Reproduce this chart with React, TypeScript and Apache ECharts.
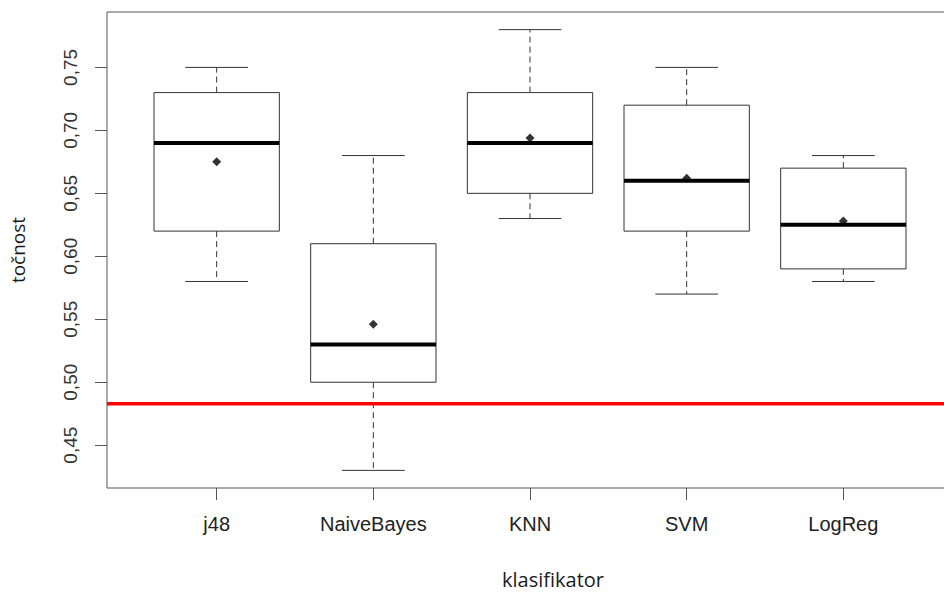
import React, { useEffect, useRef } from "react";
import * as echarts from "echarts";

const categories = ["j48", "NaiveBayes", "KNN", "SVM", "LogReg"];
const whiskerLow = [0.58, 0.43, 0.63, 0.57, 0.58];
const q1 = [0.62, 0.5, 0.65, 0.62, 0.59];
const medians = [0.69, 0.53, 0.69, 0.66, 0.625];
const q3 = [0.73, 0.61, 0.73, 0.72, 0.67];
const whiskerHigh = [0.75, 0.68, 0.78, 0.75, 0.68];
const means = [0.675, 0.546, 0.694, 0.662, 0.628];
const yTicks = [0.45, 0.5, 0.55, 0.6, 0.65, 0.7, 0.75];
const baseline = 0.483;
const xTitle = "klasifikator";
const yTitle = "točnost";

export default function App() {
  const ref = useRef<HTMLDivElement>(null);
  useEffect(() => {
    document.body.style.margin = "0";
    document.body.style.overflow = "hidden";
    const chart = echarts.init(ref.current!, null, { renderer: "svg" });
    const positions = categories.map((_, i) => i + 1);
    const boxData = categories.map((_, i) => [
      positions[i],
      whiskerLow[i],
      q1[i],
      medians[i],
      q3[i],
      whiskerHigh[i],
    ]);
    const meanData = categories.map((_, i) => [positions[i], means[i]]);
    const stroke = "#333";
    chart.setOption({
      animation: false,
      backgroundColor: "#fff",
      grid: {
        left: 107,
        top: 12,
        right: 7,
        bottom: 104,
        show: true,
        borderColor: "#555",
        borderWidth: 1,
        backgroundColor: "transparent",
      },
      xAxis: {
        type: "value",
        min: 0.3,
        max: 5.7,
        axisLine: { show: false },
        splitLine: { show: false },
        axisTick: {
          show: true,
          inside: false,
          length: 12,
          customValues: positions,
          lineStyle: { color: "#555", width: 1 },
        },
        axisLabel: {
          customValues: positions,
          formatter: (v: number) => categories[Math.round(v) - 1] ?? "",
          margin: 26,
          fontFamily: "Liberation Sans",
          fontSize: 20,
          color: "#222",
        },
      },
      yAxis: {
        type: "value",
        min: 0.416,
        max: 0.794,
        axisLine: { show: false },
        splitLine: { show: false },
        axisTick: {
          show: true,
          inside: false,
          length: 12,
          customValues: yTicks,
          lineStyle: { color: "#555", width: 1 },
        },
        axisLabel: {
          customValues: yTicks,
          rotate: 90,
          formatter: (v: number) => v.toFixed(2).replace(".", ","),
          margin: 27,
          fontFamily: "Liberation Sans",
          fontSize: 19,
          color: "#333",
        },
      },
      graphic: [
        {
          type: "text",
          x: 553,
          y: 579,
          style: {
            text: xTitle,
            fontFamily: "Open Sans",
            fontSize: 20,
            fill: "#1a1a1a",
            textAlign: "center",
            textVerticalAlign: "middle",
          },
        },
        {
          type: "text",
          x: 18,
          y: 250,
          rotation: Math.PI / 2,
          style: {
            text: yTitle,
            fontFamily: "Open Sans",
            fontSize: 19,
            fill: "#1a1a1a",
            textAlign: "center",
            textVerticalAlign: "middle",
          },
        },
      ],
      series: [
        {
          type: "custom",
          data: boxData,
          encode: { x: 0, y: [1, 2, 3, 4, 5] },
          z: 2,
          renderItem: (params: any, api: any) => {
            const x = api.value(0);
            const lo = api.coord([x, api.value(1)]);
            const b1 = api.coord([x, api.value(2)]);
            const md = api.coord([x, api.value(3)]);
            const b3 = api.coord([x, api.value(4)]);
            const hi = api.coord([x, api.value(5)]);
            const w = api.size([0.8, 0])[0];
            const cx = lo[0];
            const half = w / 2;
            const cap = w / 4;
            const dashed = { stroke, lineWidth: 1, lineDash: [6, 4] };
            const solid = { stroke, lineWidth: 1 };
            return {
              type: "group",
              children: [
                { type: "line", shape: { x1: cx, y1: b3[1], x2: cx, y2: hi[1] }, style: dashed },
                { type: "line", shape: { x1: cx, y1: b1[1], x2: cx, y2: lo[1] }, style: dashed },
                { type: "line", shape: { x1: cx - cap, y1: hi[1], x2: cx + cap, y2: hi[1] }, style: solid },
                { type: "line", shape: { x1: cx - cap, y1: lo[1], x2: cx + cap, y2: lo[1] }, style: solid },
                {
                  type: "rect",
                  shape: { x: cx - half, y: b3[1], width: w, height: b1[1] - b3[1] },
                  style: { stroke, lineWidth: 1, fill: "none" },
                },
                {
                  type: "line",
                  shape: { x1: cx - half, y1: md[1], x2: cx + half, y2: md[1] },
                  style: { stroke: "#000", lineWidth: 4 },
                },
              ],
            };
          },
        },
        {
          type: "scatter",
          data: meanData,
          symbol: "diamond",
          symbolSize: 9,
          itemStyle: { color: "#000" },
          z: 3,
        },
        {
          type: "line",
          data: [
            [0.3, baseline],
            [5.7, baseline],
          ],
          symbol: "none",
          lineStyle: { color: "#ff0000", width: 3.5 },
          z: 4,
        },
      ],
    });
    return () => chart.dispose();
  }, []);
  return (
    <div style={{ width: 944, height: 592, overflow: "hidden" }}>
      <div ref={ref} style={{ width: 960, height: 592 }} />
    </div>
  );
}
